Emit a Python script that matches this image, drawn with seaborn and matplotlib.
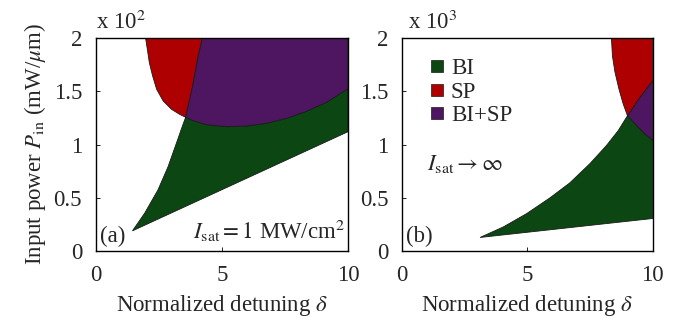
import matplotlib
matplotlib.use("Agg")
import matplotlib.pyplot as plt
from matplotlib.lines import Line2D
import seaborn as sns

# region colours
c_bi = "#0c4612"
c_sp = "#ae0000"
c_both = "#4e1560"

# ---- panel (a): I_sat = 1 MW/cm^2, P in units of 10^2 ----
a_low_x = [1.45, 10.0]
a_low_y = [0.19, 1.12]
# upper/left edge of the BI region (tip -> top), crosses SP curve at index 6
a_bi_x = [1.45, 1.93, 2.46, 2.86, 3.19, 3.45, 3.56, 3.69, 3.84, 4.06, 4.23]
a_bi_y = [0.19, 0.354, 0.573, 0.79, 1.01, 1.185, 1.255, 1.39, 1.55, 1.83, 2.0]
# SP threshold (top-left -> right edge), crosses BI edge at index 8
a_sp_x = [1.97, 2.04, 2.12, 2.25, 2.41, 2.67, 3.00, 3.33, 3.56, 3.86, 4.39,
          5.19, 5.98, 6.77, 7.57, 8.36, 9.15, 9.88, 10.0]
a_sp_y = [2.0, 1.894, 1.768, 1.643, 1.518, 1.408, 1.330, 1.282, 1.255, 1.223, 1.186,
          1.167, 1.174, 1.199, 1.246, 1.312, 1.396, 1.505, 1.52]

# ---- panel (b): I_sat -> infinity, P in units of 10^3 ----
b_low_x = [3.11, 10.0]
b_low_y = [0.128, 0.306]
# crosses SP curve at index 8
b_bi_x = [3.11, 4.04, 4.97, 5.90, 6.69, 7.49, 8.15, 8.62, 8.99, 9.48, 10.0]
b_bi_y = [0.128, 0.227, 0.352, 0.50, 0.64, 0.82, 0.99, 1.13, 1.27, 1.44, 1.60]
# crosses BI edge at index 5
b_sp_x = [8.35, 8.39, 8.49, 8.65, 8.82, 8.99, 9.35, 9.68, 10.0]
b_sp_y = [2.0, 1.83, 1.68, 1.52, 1.38, 1.27, 1.18, 1.10, 1.04]

sns.set_theme(style="white")
plt.rcParams["font.family"] = ["Liberation Serif", "DejaVu Serif"]
plt.rcParams["mathtext.fontset"] = "stix"
fs = 16.5

fig = plt.figure(figsize=(6.85, 3.24), dpi=100)
ax1 = fig.add_axes([0.140, 0.225, 0.368, 0.658])
ax2 = fig.add_axes([0.587, 0.225, 0.366, 0.658])

edge = dict(edgecolor="#1a1a1a", linewidth=0.6)

# panel (a)
i, j = 6, 8
green_x = a_low_x + a_sp_x[j:][::-1] + a_bi_x[:i + 1][::-1]
green_y = a_low_y + a_sp_y[j:][::-1] + a_bi_y[:i + 1][::-1]
ax1.fill(green_x, green_y, facecolor=c_bi, **edge)
red_x = a_sp_x[:j + 1] + a_bi_x[i:]
red_y = a_sp_y[:j + 1] + a_bi_y[i:]
ax1.fill(red_x, red_y, facecolor=c_sp, **edge)
purple_x = a_bi_x[i:] + [10.0] + a_sp_x[j:][::-1]
purple_y = a_bi_y[i:] + [2.0] + a_sp_y[j:][::-1]
ax1.fill(purple_x, purple_y, facecolor=c_both, **edge)

# panel (b)
i, j = 8, 5
green_x = b_low_x + b_sp_x[j:][::-1] + b_bi_x[:i + 1][::-1]
green_y = b_low_y + b_sp_y[j:][::-1] + b_bi_y[:i + 1][::-1]
ax2.fill(green_x, green_y, facecolor=c_bi, **edge)
purple_x = b_bi_x[i:] + b_sp_x[j:][::-1]
purple_y = b_bi_y[i:] + b_sp_y[j:][::-1]
ax2.fill(purple_x, purple_y, facecolor=c_both, **edge)
red_x = b_sp_x[:j + 1] + b_bi_x[i:] + [10.0]
red_y = b_sp_y[:j + 1] + b_bi_y[i:] + [2.0]
ax2.fill(red_x, red_y, facecolor=c_sp, **edge)

for ax in (ax1, ax2):
    ax.set_xlim(0, 10)
    ax.set_ylim(0, 2)
    ax.set_xticks([0, 5, 10])
    ax.set_yticks([0, 0.5, 1, 1.5, 2])
    ax.set_yticklabels(["0", "0.5", "1", "1.5", "2"])
    ax.tick_params(direction="in", length=3, width=0.6, labelsize=fs,
                   top=False, right=False, left=True, bottom=True, color="black")
    ax.tick_params(axis="y", pad=10)
    ax.tick_params(axis="x", pad=10)
    for s in ax.spines.values():
        s.set_color("black")
        s.set_linewidth(1.0)
    ax.set_xlabel(r"Normalized detuning $\delta$", fontsize=fs, labelpad=5)
    ax.grid(False)

ax1.set_ylabel(r"Input power $P_{\rm in}$ (mW/$\mu$m)", fontsize=fs, labelpad=4)

ax1.text(0.0, 1.02, r"x 10$^2$", transform=ax1.transAxes, ha="left", va="bottom", fontsize=fs)
ax2.text(0.025, 1.02, r"x 10$^3$", transform=ax2.transAxes, ha="left", va="bottom", fontsize=fs)

ax1.text(0.15, 0.04, "(a)", ha="left", va="bottom", fontsize=fs)
ax1.text(9.9, 0.07, r"$I_{\rm sat} = 1$ MW/cm$^2$", ha="right", va="bottom", fontsize=fs)
ax2.text(0.15, 0.04, "(b)", ha="left", va="bottom", fontsize=fs)
ax2.text(1.0, 0.82, r"$I_{\rm sat} \rightarrow \infty$", ha="left", va="center", fontsize=fs)

handles = [Line2D([], [], marker="s", linestyle="", markersize=8, markerfacecolor=c,
                  markeredgecolor="#1a1a1a", markeredgewidth=0.5)
           for c in (c_bi, c_sp, c_both)]
ax2.legend(handles, ["BI", "SP", "BI+SP"], loc="upper left", frameon=False,
           fontsize=fs, handletextpad=0.1, labelspacing=0.1, borderaxespad=0.3,
           handlelength=1.0, bbox_to_anchor=(0.03, 0.98))

fig.savefig("out.png", dpi=100)
